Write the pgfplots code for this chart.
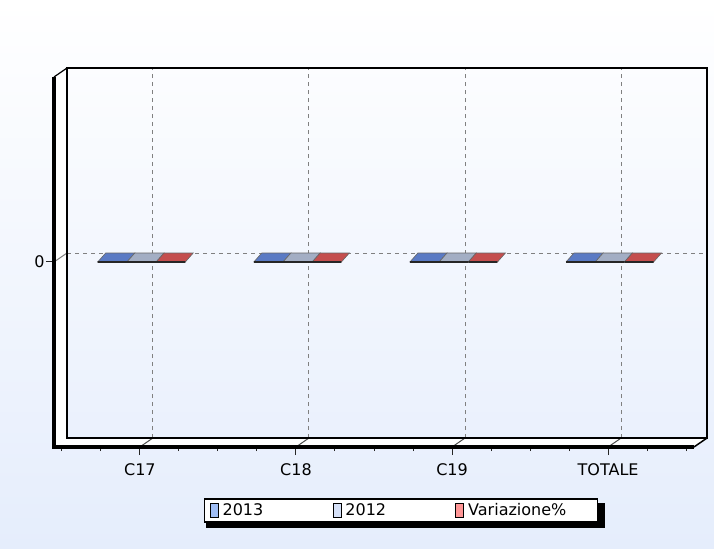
\documentclass[border=0pt]{standalone}
\usepackage{pgfplots}
\pgfplotsset{compat=1.18}
\usepackage{fontspec}
\setmainfont{DejaVu Sans}
\definecolor{bgbot}{RGB}{229,237,252}
\definecolor{faceA}{RGB}{90,122,196}
\definecolor{faceB}{RGB}{163,174,196}
\definecolor{faceC}{RGB}{196,78,78}
\definecolor{legA}{RGB}{160,190,245}
\definecolor{legB}{RGB}{214,225,248}
\definecolor{legC}{RGB}{255,150,150}
\definecolor{gridc}{RGB}{128,128,128}
\begin{document}
\begin{tikzpicture}[font=\fontsize{16bp}{19bp}\selectfont]
\shade[top color=white, bottom color=bgbot] (0,0) rectangle (714bp,549bp);
% legend shadow
\fill[black] (206bp,21bp) rectangle (605bp,46bp);
\begin{axis}[
  at={(54bp,102bp)}, anchor=south west,
  scale only axis, width=640bp, height=370bp,
  xmin=-0.55, xmax=3.55, ymin=-1, ymax=1,
  clip=false,
  axis lines*=left, axis line style={draw=none},
  xtick={0,1,2,3}, xticklabels={C17,C18,C19,TOTALE},
  minor xtick={-0.5,-0.25,0.25,0.5,0.75,1.25,1.5,1.75,2.25,2.5,2.75,3.25,3.5},
  ytick={0},
  tick align=outside,
  major tick length=8bp, minor tick length=4bp,
  tick style={draw=black!85, line width=1bp},
  /pgf/number format/assume math mode=true,
  xticklabel style={yshift=-5bp},
  yticklabel style={xshift=2bp},
  legend columns=3,
  legend style={at={(rel axis cs:0.5422,-0.1716)}, anchor=center,
    draw=black, line width=1.2bp, fill=white,
    inner xsep=5bp, inner ysep=3.5bp,
    nodes={inner sep=0pt, text height=13bp, text depth=3bp, anchor=west}},
]
% walls
\fill[white] (axis cs:-0.55,-1) -- (axis cs:-0.55,1) -- (axis cs:-0.4667,1.0486) -- (axis cs:-0.4667,-0.9514) -- cycle;
\fill[white] (axis cs:-0.55,-1) -- (axis cs:3.55,-1) -- (axis cs:3.6333,-0.9514) -- (axis cs:-0.4667,-0.9514) -- cycle;
% grid
\draw[gridc, line width=1bp, dash pattern=on 4bp off 4bp] (axis cs:0.0833,-0.9514) -- (axis cs:0.0833,1.0486);
\draw[gridc, line width=1bp, dash pattern=on 4bp off 4bp] (axis cs:1.0833,-0.9514) -- (axis cs:1.0833,1.0486);
\draw[gridc, line width=1bp, dash pattern=on 4bp off 4bp] (axis cs:2.0833,-0.9514) -- (axis cs:2.0833,1.0486);
\draw[gridc, line width=1bp, dash pattern=on 4bp off 4bp] (axis cs:3.0833,-0.9514) -- (axis cs:3.0833,1.0486);
\draw[black!70, line width=1bp] (axis cs:0,-1) -- (axis cs:0.0833,-0.9514);
\draw[black!70, line width=1bp] (axis cs:1,-1) -- (axis cs:1.0833,-0.9514);
\draw[black!70, line width=1bp] (axis cs:2,-1) -- (axis cs:2.0833,-0.9514);
\draw[black!70, line width=1bp] (axis cs:3,-1) -- (axis cs:3.0833,-0.9514);
\draw[gridc, line width=1bp, dash pattern=on 4bp off 4bp] (axis cs:-0.4667,0.0486) -- (axis cs:3.6333,0.0486);
\draw[gridc, line width=1bp] (axis cs:-0.55,0) -- (axis cs:-0.4667,0.0486);
% frame
\draw[line width=1.5bp] (axis cs:-0.4667,-0.9514) rectangle (axis cs:3.6333,1.0486);
\draw[line width=1.2bp] (axis cs:-0.55,1) -- (axis cs:-0.4667,1.0486);
\draw[line width=1.5bp] (axis cs:3.55,-1) -- (axis cs:3.6333,-0.9514);
\draw[line width=3bp] (axis cs:-0.55,1) -- (axis cs:-0.55,-1) -- (axis cs:3.55,-1);
% top faces of the (zero-height) bars
\addplot[forget plot, fill=faceA, draw=black!60, line width=0.6bp] coordinates {(-0.27,0) (-0.083,0) (-0.032,0.0486) (-0.219,0.0486) (-0.27,0)};
\addplot[forget plot, fill=faceB, draw=black!60, line width=0.6bp] coordinates {(-0.083,0) (0.104,0) (0.155,0.0486) (-0.032,0.0486) (-0.083,0)};
\addplot[forget plot, fill=faceC, draw=black!60, line width=0.6bp] coordinates {(0.104,0) (0.291,0) (0.342,0.0486) (0.155,0.0486) (0.104,0)};
\addplot[forget plot, fill=faceA, draw=black!60, line width=0.6bp] coordinates {(0.73,0) (0.917,0) (0.968,0.0486) (0.781,0.0486) (0.73,0)};
\addplot[forget plot, fill=faceB, draw=black!60, line width=0.6bp] coordinates {(0.917,0) (1.104,0) (1.155,0.0486) (0.968,0.0486) (0.917,0)};
\addplot[forget plot, fill=faceC, draw=black!60, line width=0.6bp] coordinates {(1.104,0) (1.291,0) (1.342,0.0486) (1.155,0.0486) (1.104,0)};
\addplot[forget plot, fill=faceA, draw=black!60, line width=0.6bp] coordinates {(1.73,0) (1.917,0) (1.968,0.0486) (1.781,0.0486) (1.73,0)};
\addplot[forget plot, fill=faceB, draw=black!60, line width=0.6bp] coordinates {(1.917,0) (2.104,0) (2.155,0.0486) (1.968,0.0486) (1.917,0)};
\addplot[forget plot, fill=faceC, draw=black!60, line width=0.6bp] coordinates {(2.104,0) (2.291,0) (2.342,0.0486) (2.155,0.0486) (2.104,0)};
\addplot[forget plot, fill=faceA, draw=black!60, line width=0.6bp] coordinates {(2.73,0) (2.917,0) (2.968,0.0486) (2.781,0.0486) (2.73,0)};
\addplot[forget plot, fill=faceB, draw=black!60, line width=0.6bp] coordinates {(2.917,0) (3.104,0) (3.155,0.0486) (2.968,0.0486) (2.917,0)};
\addplot[forget plot, fill=faceC, draw=black!60, line width=0.6bp] coordinates {(3.104,0) (3.291,0) (3.342,0.0486) (3.155,0.0486) (3.104,0)};
% the bars themselves: all values 0
\addplot[ybar, bar width=0.187, bar shift=-0.1765, fill=legA, draw=black!85, line width=2bp,
  legend image code/.code={\draw[line width=0.8bp, draw=black, fill=legA] (0bp,-7bp) rectangle (8bp,7bp);}]
  coordinates {(0,0) (1,0) (2,0) (3,0)};
\addlegendentry{\makebox[114bp][l]{\hspace*{4bp}2013}}
\addplot[ybar, bar width=0.187, bar shift=0.0105, fill=legB, draw=black!85, line width=2bp,
  legend image code/.code={\draw[line width=0.8bp, draw=black, fill=legB] (0bp,-7bp) rectangle (8bp,7bp);}]
  coordinates {(0,0) (1,0) (2,0) (3,0)};
\addlegendentry{\makebox[114bp][l]{\hspace*{4bp}2012}}
\addplot[ybar, bar width=0.187, bar shift=0.1975, fill=legC, draw=black!85, line width=2bp,
  legend image code/.code={\draw[line width=0.8bp, draw=black, fill=legC] (0bp,-7bp) rectangle (8bp,7bp);}]
  coordinates {(0,0) (1,0) (2,0) (3,0)};
\addlegendentry{\makebox[128bp][l]{\hspace*{4bp}Variazione\%}}
\end{axis}
\pgfresetboundingbox
\useasboundingbox (0,0) rectangle (714bp,549bp);
\end{tikzpicture}
\end{document}
